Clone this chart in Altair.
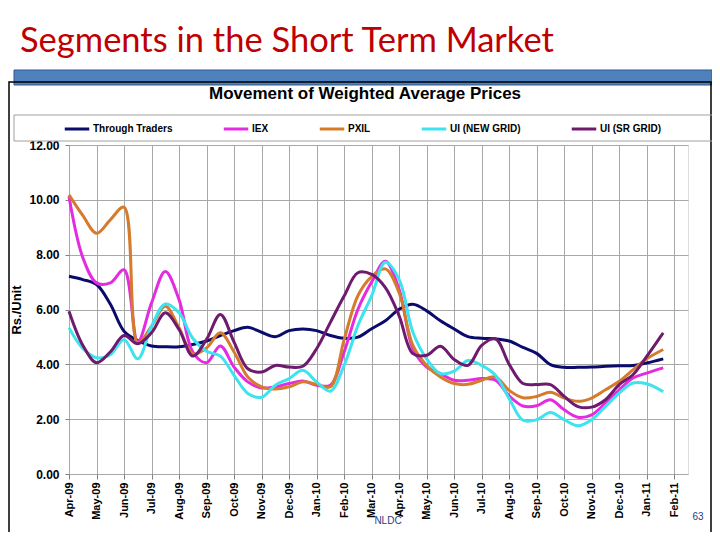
import altair as alt
import pandas as pd

MONTH_LABELS = ["Apr-09", "May-09", "Jun-09", "Jul-09", "Aug-09", "Sep-09", "Oct-09",
                "Nov-09", "Dec-09", "Jan-10", "Feb-10", "Mar-10", "Apr-10", "May-10",
                "Jun-10", "Jul-10", "Aug-10", "Sep-10", "Oct-10", "Nov-10", "Dec-10",
                "Jan-11", "Feb-11"]

# sample positions, in months after Apr-09 (half-month steps)
X_POS = [0, 0.5, 1, 1.5, 2, 2.5, 3, 3.5, 4, 4.5, 5, 5.5, 6, 6.5, 7, 7.5, 8, 8.5,
         9, 9.5, 10, 10.5, 11, 11.5, 12, 12.5, 13, 13.5, 14, 14.5, 15, 15.5, 16,
         16.5, 17, 17.5, 18, 18.5, 19, 19.5, 20, 20.5, 21, 21.6]

SERIES = ["Through Traders", "IEX", "PXIL", "UI (NEW GRID)", "UI (SR GRID)"]
COLORS = ["#0B0B6B", "#E52BE0", "#D47B2C", "#3DE3EE", "#6E1A6E"]

THROUGH_TRADERS = [7.21, 7.09, 6.91, 6.20, 5.21, 4.87, 4.67, 4.64, 4.64, 4.72, 4.85,
                   5.05, 5.23, 5.35, 5.17, 5.01, 5.23, 5.29, 5.23, 5.05, 4.95, 4.99,
                   5.30, 5.59, 6.01, 6.19, 5.95, 5.59, 5.29, 5.01, 4.95, 4.93, 4.85,
                   4.62, 4.40, 3.99, 3.89, 3.89, 3.90, 3.93, 3.95, 3.96, 4.05, 4.20]
IEX = [10.12, 7.90, 6.97, 6.97, 7.45, 4.82, 6.24, 7.39, 6.36, 4.45, 4.06, 4.67,
       3.90, 3.36, 3.14, 3.18, 3.30, 3.39, 3.24, 3.24, 4.45, 6.00, 7.00, 7.76,
       6.73, 4.57, 3.90, 3.66, 3.42, 3.42, 3.48, 3.42, 2.85, 2.48, 2.49, 2.71,
       2.34, 2.07, 2.16, 2.59, 3.07, 3.50, 3.68, 3.87]
PXIL = [10.18, 9.43, 8.78, 9.27, 9.73, 4.78, 5.39, 6.12, 5.33, 4.38, 4.60, 5.15,
        4.45, 3.54, 3.18, 3.10, 3.18, 3.36, 3.27, 3.18, 4.90, 6.50, 7.20, 7.48,
        6.61, 4.69, 3.96, 3.54, 3.30, 3.27, 3.42, 3.54, 3.05, 2.78, 2.83, 2.98,
        2.77, 2.65, 2.77, 3.07, 3.38, 3.80, 4.20, 4.54]
UI_NEW = [5.33, 4.58, 4.24, 4.35, 4.90, 4.20, 5.39, 6.20, 5.88, 4.95, 4.48, 4.30,
          3.60, 2.94, 2.80, 3.24, 3.48, 3.78, 3.36, 3.02, 3.96, 5.41, 6.50, 7.72,
          7.10, 5.17, 4.20, 3.66, 3.75, 4.14, 3.96, 3.60, 2.75, 1.96, 1.98, 2.24,
          1.98, 1.76, 1.98, 2.46, 2.95, 3.32, 3.29, 3.00]
UI_SR = [5.94, 4.70, 4.06, 4.45, 5.05, 4.75, 5.15, 5.88, 5.27, 4.30, 4.91, 5.82,
         4.81, 3.84, 3.72, 3.96, 3.90, 3.93, 4.57, 5.53, 6.49, 7.34, 7.28, 6.80,
         5.77, 4.39, 4.33, 4.66, 4.18, 3.96, 4.69, 4.93, 4.00, 3.30, 3.26, 3.26,
         2.83, 2.46, 2.44, 2.71, 3.26, 3.62, 4.29, 5.15]

Y_TICKS = [0, 2, 4, 6, 8, 10, 12]

SLIDE_TITLE = "Segments in the Short Term Market"
CHART_TITLE = "Movement of Weighted Average Prices"
Y_TITLE = "Rs./Unit"
FOOTER_LEFT = "NLDC"
FOOTER_RIGHT = "63"

values_by_series = [THROUGH_TRADERS, IEX, PXIL, UI_NEW, UI_SR]
rows = []
for name, vals in zip(SERIES, values_by_series):
    for m, v in zip(X_POS, vals):
        rows.append({"series": name, "m": m, "v": v, "order": SERIES.index(name)})
df = pd.DataFrame(rows)

label_expr = "[" + ",".join("'" + s + "'" for s in MONTH_LABELS) + "][datum.value]"

W, H = 619, 329
FONT = "Liberation Sans"

lines = alt.Chart(df).mark_line(strokeWidth=3, interpolate="catmull-rom").encode(
    x=alt.X("m:Q",
            scale=alt.Scale(domain=[0, 22.5], nice=False, zero=False),
            axis=alt.Axis(values=list(range(len(MONTH_LABELS))), labelExpr=label_expr,
                          labelAngle=-90, labelAlign="right", labelBaseline="middle",
                          labelPadding=3, tickSize=5, tickColor="#808080",
                          grid=True, gridColor="#A8A8A8", domain=False, title=None,
                          labelFontSize=11, labelFont=FONT, labelFontWeight="bold",
                          labelColor="#000000", labelOverlap=False)),
    y=alt.Y("v:Q",
            scale=alt.Scale(domain=[0, 12], nice=False, zero=True),
            axis=alt.Axis(values=Y_TICKS, format=".2f", grid=True, gridColor="#A8A8A8",
                          domain=False, tickSize=4, tickColor="#808080", labelPadding=6,
                          labelFontSize=12, labelFont=FONT, labelFontWeight="bold",
                          labelColor="#000000",
                          title=Y_TITLE, titleFont=FONT, titleFontSize=13,
                          titleFontWeight="bold", titleColor="#000000",
                          titleX=-53, titleY=H / 2, titleAngle=-90,
                          titleAlign="center", titleBaseline="middle")),
    color=alt.Color("series:N",
                    scale=alt.Scale(domain=SERIES, range=COLORS),
                    legend=alt.Legend(orient="none", legendX=-6, legendY=-30,
                                      direction="horizontal", columns=5, title=None,
                                      symbolType="stroke", symbolStrokeWidth=3,
                                      symbolSize=600, columnPadding=44, labelOffset=2,
                                      labelFont=FONT, labelFontSize=10,
                                      labelFontWeight="bold", labelColor="#000000",
                                      labelLimit=300)),
    order=alt.Order("order:Q"),
)

def rect(x, x2, y, y2, **kw):
    return alt.Chart(pd.DataFrame({"k": [0]})).mark_rect(**kw).encode(
        x=alt.value(x), x2=alt.value(x2), y=alt.value(y), y2=alt.value(y2))

def text(label, x, y, **kw):
    return alt.Chart(pd.DataFrame({"label": [label]})).mark_text(**kw).encode(
        text="label:N", x=alt.value(x), y=alt.value(y))

blue_bar = rect(-55, 643, -75, -60, fill="#4F81BD", stroke="#2F5A8C", strokeWidth=1)
frame = rect(-60, 642, -63, 420, fill="transparent", stroke="#000000", strokeWidth=1.5)
legend_box = rect(-55, 660, -30, -4, fill="transparent", stroke="#A0A0A0", strokeWidth=1)

slide_title = text(SLIDE_TITLE, -49, -93, align="left", baseline="alphabetic",
                   font="Lato", fontSize=34.5, color="#C00000")
chart_title = text(CHART_TITLE, 296, -51, align="center", baseline="middle",
                   font=FONT, fontSize=17, fontWeight="bold", color="#000000")
footer_l = text(FOOTER_LEFT, 319, 376, align="center", baseline="middle",
                font=FONT, fontSize=10, color="#1F3B82")
footer_r = text(FOOTER_RIGHT, 629, 372, align="center", baseline="middle",
                font=FONT, fontSize=10, color="#1F3B82")

chart = alt.layer(
    blue_bar, frame, legend_box, slide_title, chart_title, footer_l, footer_r, lines
).properties(
    width=W, height=H,
    padding={"left": 61, "top": 137, "right": 24, "bottom": 58},
    autosize=alt.AutoSizeParams(type="none"),
).configure_view(
    stroke="#000000", strokeWidth=2
).configure(background="#FFFFFF")

chart.save("out.html", embed_options={"renderer": "svg", "actions": False})
